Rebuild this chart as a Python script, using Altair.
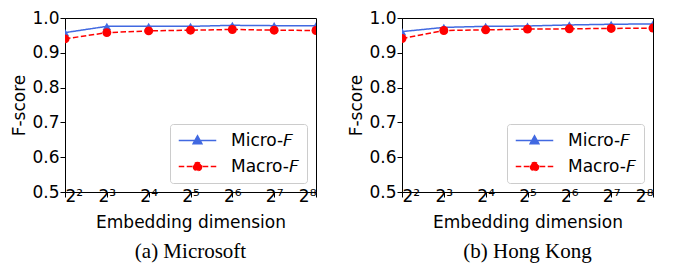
import altair as alt
import pandas as pd

# ---- data ----
exponents = [2, 3, 4, 5, 6, 7, 8]
series_names = ["Micro-F", "Macro-F"]
ms_micro = [0.958, 0.976, 0.976, 0.976, 0.979, 0.978, 0.978]
ms_macro = [0.940, 0.958, 0.963, 0.965, 0.967, 0.965, 0.964]
hk_micro = [0.961, 0.973, 0.976, 0.977, 0.980, 0.982, 0.983]
hk_macro = [0.941, 0.964, 0.966, 0.968, 0.969, 0.970, 0.971]
captions = ["(a) Microsoft", "(b) Hong Kong"]
y_ticks = [0.5, 0.6, 0.7, 0.8, 0.9, 1.0]

# ---- styles ----
colors = ["#4169e1", "#ff0000"]
dashes = [[1, 0], [5.5, 2.5]]
point_shapes = ["triangle-up", "circle"]
point_sizes = [70, 80]
legend_paths = [
    "M-2.5,0H2.5M0,-0.62L0.58,0.42H-0.58Z",
    "M-2.5,0H2.5M0.55,0A0.55,0.55,0,1,1,-0.55,0A0.55,0.55,0,1,1,0.55,0Z",
]
FONT = "DejaVu Sans"
FS = 17
sup = "['⁰','¹','²','³','⁴','⁵','⁶','⁷','⁸','⁹']"


def panel(micro, macro, caption):
    df = pd.DataFrame({
        "dim": exponents + exponents,
        "series": [series_names[0]] * len(exponents) + [series_names[1]] * len(exponents),
        "value": micro + macro,
    })
    base = alt.Chart(df)
    x = alt.X("dim:Q",
              scale=alt.Scale(domain=[2, 8], nice=False, zero=False),
              axis=alt.Axis(values=exponents, labelExpr="'2' + " + sup + "[datum.value]",
                            title="Embedding dimension", labelPadding=-9, titlePadding=10))
    y = alt.Y("value:Q",
              scale=alt.Scale(domain=[0.5, 1.0], nice=False, zero=False),
              axis=alt.Axis(values=y_ticks, format=".1f", title="F-score",
                            labelPadding=1, titlePadding=3))
    layers = []
    for i, name in enumerate(series_names):
        sub = base.transform_filter(alt.datum.series == name)
        layers.append(sub.mark_line(strokeWidth=1.5, clip=True, color=colors[i],
                                    strokeDash=dashes[i]).encode(x=x, y=y))
    for i, name in enumerate(series_names):
        sub = base.transform_filter(alt.datum.series == name)
        layers.append(sub.mark_point(filled=True, opacity=1, clip=True, color=colors[i],
                                     shape=point_shapes[i], size=point_sizes[i]).encode(x=x, y=y))
    lg = alt.Legend(title=None, orient="bottom-right", offset=9, padding=8,
                    strokeColor="#cccccc", fillColor="white", cornerRadius=3,
                    labelFont=FONT, labelFontSize=FS, labelColor="black",
                    symbolSize=225, symbolStrokeWidth=1.5, symbolOffset=11,
                    labelOffset=25, rowPadding=8,
                    labelExpr="replace(datum.label, '-F', '-𝘍')")
    leg = base.mark_point(filled=True, opacity=1, strokeWidth=1.5).encode(
        fill=alt.Fill("series:N", scale=alt.Scale(domain=series_names, range=colors), legend=lg),
        stroke=alt.Stroke("series:N", scale=alt.Scale(domain=series_names, range=colors), legend=lg),
        shape=alt.Shape("series:N", scale=alt.Scale(domain=series_names, range=legend_paths), legend=lg),
        strokeDash=alt.StrokeDash("series:N", scale=alt.Scale(domain=series_names, range=dashes), legend=lg),
    ).transform_filter("false")
    layers.append(leg)
    return alt.layer(*layers).properties(
        width=251, height=174,
        title=alt.TitleParams(caption, orient="bottom", font="Liberation Serif", fontSize=21,
                              fontWeight="normal", color="black", frame="group", anchor="middle",
                              offset=11),
    )


chart = alt.hconcat(
    panel(ms_micro, ms_macro, captions[0]),
    panel(hk_micro, hk_macro, captions[1]),
    spacing=30,
).resolve_scale(
    fill="independent", stroke="independent", shape="independent", strokeDash="independent",
).properties(
    padding={"left": 2, "top": 0, "right": 0, "bottom": 0},
).configure_view(
    stroke="black", strokeWidth=1,
).configure_axis(
    grid=False, domainColor="black", tickColor="black", tickSize=5, tickWidth=1,
    labelFont=FONT, labelFontSize=FS, labelColor="black",
    titleFont=FONT, titleFontSize=FS, titleFontWeight="normal", titleColor="black",
)

chart.save("out.html", embed_options={"renderer": "svg", "actions": False})
